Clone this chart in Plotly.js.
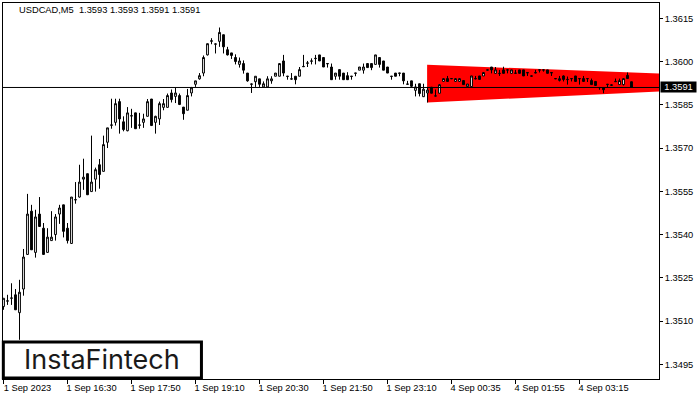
<!DOCTYPE html>
<html>
<head>
<meta charset="utf-8">
<script src="https://cdn.plot.ly/plotly-3.0.1.min.js"></script>
<style>html,body{margin:0;padding:0;background:#fff}#chart{width:700px;height:400px}</style>
</head>
<body>
<div id="chart"></div>
<script>
const opens = [
1.35150,1.35169,1.35179,1.35191,1.35129,1.35211,1.35331,1.35481,1.35338,1.35471,
1.35422,1.35338,1.35379,1.35400,1.35471,1.35503,1.35422,1.35369,1.35520,1.35530,
1.35592,1.35611,1.35549,1.35592,1.35642,1.35619,1.35720,1.35779,1.35789,1.35861,
1.35791,1.35760,1.35811,1.35822,1.35779,1.35789,1.35810,1.35870,1.35789,1.35801,
1.35841,1.35841,1.35891,1.35879,1.35882,1.35842,1.35831,1.35891,1.35921,1.35940,
1.35960,1.36023,1.36070,1.36060,1.36070,1.36093,1.36041,1.36030,1.36014,1.35990,
1.35993,1.35960,1.35921,1.35930,1.35940,1.35912,1.35912,1.35933,1.35949,1.35949,
1.36002,1.35948,1.35939,1.35949,1.35949,1.35982,1.35994,1.36001,1.36010,1.36023,
1.36014,1.35992,1.35981,1.35949,1.35972,1.35960,1.35951,1.35948,1.35959,1.35970,
1.35970,1.35993,1.35993,1.35990,1.36014,1.36002,1.35981,1.35948,1.35960,1.35959,
1.35960,1.35921,1.35933,1.35900,1.35923,1.35878,1.35891,1.35911,1.35880,1.35890,
1.35931,1.35941,1.35940,1.35931,1.35931,1.35934,1.35913,1.35913,1.35940,1.35950,
1.35950,1.35970,1.35981,1.35959,1.35958,1.35971,1.35970,1.35959,1.35959,1.35971,
1.35971,1.35960,1.35949,1.35960,1.35970,1.35970,1.35971,1.35960,1.35940,1.35934,
1.35950,1.35937,1.35940,1.35950,1.35940,1.35941,1.35940,1.35934,1.35931,1.35909,
1.35910,1.35920,1.35917,1.35930,1.35920,1.35920,1.35952,1.3593];
const highs = [
1.35179,1.35191,1.35231,1.35211,1.35243,1.35350,1.35541,1.35503,1.35486,1.35530,
1.35440,1.35422,1.35481,1.35471,1.35503,1.35503,1.35440,1.35530,1.35582,1.35642,
1.35663,1.35611,1.35743,1.35632,1.35662,1.35743,1.35770,1.35871,1.35871,1.35871,
1.35810,1.35842,1.35836,1.35822,1.35822,1.35819,1.35870,1.35870,1.35812,1.35861,
1.35870,1.35889,1.35903,1.35909,1.35889,1.35842,1.35905,1.35912,1.35933,1.35960,
1.36021,1.36062,1.36081,1.36062,1.36118,1.36093,1.36051,1.36030,1.36025,1.36014,
1.36004,1.35960,1.35923,1.35949,1.35940,1.35931,1.35949,1.35949,1.35960,1.35993,
1.36023,1.35949,1.35960,1.35949,1.35981,1.36023,1.36002,1.36011,1.36023,1.36023,
1.36014,1.35993,1.35993,1.35960,1.35972,1.35960,1.35963,1.35949,1.35960,1.35981,
1.35993,1.35993,1.35993,1.36023,1.36014,1.36002,1.35981,1.35949,1.35960,1.35960,
1.35960,1.35933,1.35933,1.35923,1.35923,1.35923,1.35912,1.35911,1.35903,1.35922,
1.35941,1.35950,1.35941,1.35941,1.35941,1.35934,1.35922,1.35950,1.35950,1.35950,
1.35962,1.35971,1.35981,1.35981,1.35971,1.35982,1.35971,1.35971,1.35971,1.35971,
1.35971,1.35962,1.35950,1.35971,1.35971,1.35971,1.35971,1.35962,1.35941,1.35950,
1.35952,1.35948,1.35941,1.35950,1.35941,1.35950,1.35941,1.35941,1.35931,1.35910,
1.35910,1.35922,1.35920,1.35941,1.35941,1.35941,1.35962,1.3593];
const lows = [
1.35139,1.35156,1.35156,1.35139,1.35035,1.35188,1.35331,1.35347,1.35320,1.35428,
1.35331,1.35338,1.35379,1.35379,1.35437,1.35390,1.35369,1.35369,1.35507,1.35528,
1.35555,1.35538,1.35549,1.35549,1.35559,1.35619,1.35700,1.35767,1.35778,1.35750,
1.35758,1.35758,1.35770,1.35767,1.35767,1.35770,1.35810,1.35778,1.35750,1.35780,
1.35831,1.35841,1.35858,1.35856,1.35849,1.35798,1.35831,1.35879,1.35912,1.35937,
1.35949,1.36021,1.36060,1.36028,1.36051,1.36028,1.36021,1.36009,1.35990,1.35979,
1.35958,1.35930,1.35891,1.35912,1.35912,1.35912,1.35912,1.35923,1.35949,1.35949,
1.35949,1.35937,1.35937,1.35921,1.35949,1.35981,1.35981,1.35990,1.35990,1.36002,
1.35981,1.35979,1.35937,1.35937,1.35937,1.35937,1.35937,1.35937,1.35949,1.35970,
1.35958,1.35979,1.35970,1.35990,1.35979,1.35970,1.35960,1.35937,1.35949,1.35949,
1.35921,1.35921,1.35912,1.35879,1.35879,1.35877,1.35858,1.35890,1.35879,1.35890,
1.35931,1.35931,1.35940,1.35931,1.35931,1.35920,1.35913,1.35913,1.35938,1.35938,
1.35950,1.35970,1.35959,1.35959,1.35950,1.35959,1.35959,1.35959,1.35959,1.35959,
1.35950,1.35950,1.35949,1.35959,1.35962,1.35965,1.35959,1.35950,1.35939,1.35931,
1.35931,1.35920,1.35931,1.35931,1.35920,1.35931,1.35929,1.35920,1.35917,1.35902,
1.35890,1.35910,1.35917,1.35930,1.35920,1.35917,1.35941,1.3591];
const closes = [
1.35179,1.35170,1.35180,1.35139,1.35200,1.35322,1.35471,1.35347,1.35461,1.35428,
1.35331,1.35391,1.35391,1.35461,1.35492,1.35411,1.35379,1.35530,1.35521,1.35582,
1.35599,1.35538,1.35582,1.35625,1.35608,1.35712,1.35770,1.35780,1.35854,1.35801,
1.35764,1.35822,1.35812,1.35767,1.35780,1.35801,1.35861,1.35778,1.35810,1.35854,
1.35854,1.35882,1.35868,1.35891,1.35851,1.35819,1.35882,1.35909,1.35933,1.35951,
1.36014,1.36062,1.36072,1.36061,1.36101,1.36051,1.36023,1.36021,1.36000,1.36002,
1.35970,1.35933,1.35922,1.35949,1.35921,1.35923,1.35940,1.35940,1.35960,1.35993,
1.35960,1.35949,1.35940,1.35937,1.35972,1.35983,1.35995,1.36002,1.36011,1.36002,
1.35981,1.35993,1.35937,1.35960,1.35949,1.35937,1.35937,1.35949,1.35960,1.35981,
1.35981,1.35979,1.35979,1.36023,1.35990,1.35970,1.35960,1.35949,1.35949,1.35960,
1.35933,1.35922,1.35914,1.35912,1.35889,1.35904,1.35901,1.35890,1.35881,1.35920,
1.35941,1.35931,1.35941,1.35941,1.35941,1.35920,1.35922,1.35950,1.35941,1.35938,
1.35962,1.35971,1.35971,1.35971,1.35959,1.35959,1.35971,1.35971,1.35960,1.35959,
1.35950,1.35962,1.35950,1.35962,1.35971,1.35971,1.35959,1.35962,1.35941,1.35941,
1.35938,1.35938,1.35941,1.35931,1.35941,1.35931,1.35941,1.35920,1.35917,1.35910,
1.35902,1.35921,1.35919,1.35931,1.35934,1.35941,1.35941,1.3591];
const barIndex = opens.map((_, i) => i);

const tickBars = [0,16,32,48,64,80,96,112,128,144];
const tickLabels = ["1 Sep 2023","1 Sep 16:30","1 Sep 17:50","1 Sep 19:10","1 Sep 20:30","1 Sep 21:50","1 Sep 23:10","4 Sep 00:35","4 Sep 01:55","4 Sep 03:15"];
const priceTicks = [1.3495,1.3510,1.3525,1.3540,1.3555,1.3570,1.3585,1.3600,1.3615];

const patternBars = [105.9,164,164,105.9];
const patternPrices = [1.35989,1.35958,1.35896,1.35858];
const lastPrice = 1.3591;

const patternPath = patternBars.map((b,i)=>(i?"L":"M")+b+","+patternPrices[i]).join(" ")+" Z";
const tickFont = {family:"Liberation Sans, Arial, sans-serif", size:9.3, color:"#000"};

const trace = {
  type:"candlestick", x:barIndex, open:opens, high:highs, low:lows, close:closes,
  whiskerwidth:0, hoverinfo:"none",
  increasing:{line:{color:"#000",width:1},fillcolor:"#fff"},
  decreasing:{line:{color:"#000",width:1},fillcolor:"#000"}
};
const layout = {
  width:700, height:400, showlegend:false, paper_bgcolor:"#fff", plot_bgcolor:"#fff",
  margin:{l:3,r:41,t:3,b:21,pad:0}, boxgap:0.35, dragmode:false,
  font:tickFont,
  xaxis:{type:"linear", range:[-0.125,163.875], rangeslider:{visible:false}, tickmode:"array",
    tickvals:tickBars, ticktext:tickLabels, ticks:"outside", ticklen:4, tickwidth:1, tickcolor:"#000",
    showgrid:false, zeroline:false, showline:true, mirror:true, linecolor:"#000", linewidth:1,
    tickangle:0, ticklabelshift:24, ticklabeloverflow:"allow", tickfont:tickFont, ticklabelstandoff:-4},
  yaxis:{side:"right", range:[1.34899,1.36203], tickmode:"array", tickvals:priceTicks,
    ticktext:priceTicks.map(v=>v.toFixed(4)), ticks:"outside", ticklen:3, tickwidth:1, tickcolor:"#000",
    showgrid:false, zeroline:false, showline:true, mirror:true, linecolor:"#000", linewidth:1,
    tickfont:tickFont, ticklabelstandoff:0},
  shapes:[
    {type:"path", layer:"below", xref:"x", yref:"y", path:patternPath, fillcolor:"#ff0000", line:{width:0}},
    {type:"line", layer:"above", xref:"paper", yref:"y", x0:0, x1:1, y0:lastPrice, y1:lastPrice, line:{color:"#000",width:1}},
    {type:"rect", layer:"above", xref:"paper", yref:"paper", x0:0.0005, x1:0.3025, y0:0.0025, y1:0.0985,
      fillcolor:"#fff", line:{color:"#000",width:3}}
  ],
  annotations:[
    {text:"USDCAD,M5\u00A0\u00A01.3593 1.3593 1.3591 1.3591", xref:"paper", yref:"paper", x:0.0232, y:1, yshift:-1,
      xanchor:"left", yanchor:"top", showarrow:false, font:tickFont, borderpad:0},
    {text:"1.3591", xref:"paper", yref:"y", x:1, y:lastPrice, xanchor:"left", yanchor:"middle", xshift:1,
      showarrow:false, bgcolor:"#000", borderpad:0, width:35, height:10, align:"center",
      font:{family:tickFont.family,size:9.3,color:"#fff"}},
    {text:"InstaFintech", xref:"paper", yref:"paper", x:0.1505, y:0.0505, yshift:1, xanchor:"center", yanchor:"middle",
      showarrow:false, font:{family:"Inter, sans-serif", size:27, color:"#1a1a1a", weight:400}}
  ]
};
Plotly.newPlot("chart",[trace],layout,{displayModeBar:false,staticPlot:true});
</script>
</body>
</html>
